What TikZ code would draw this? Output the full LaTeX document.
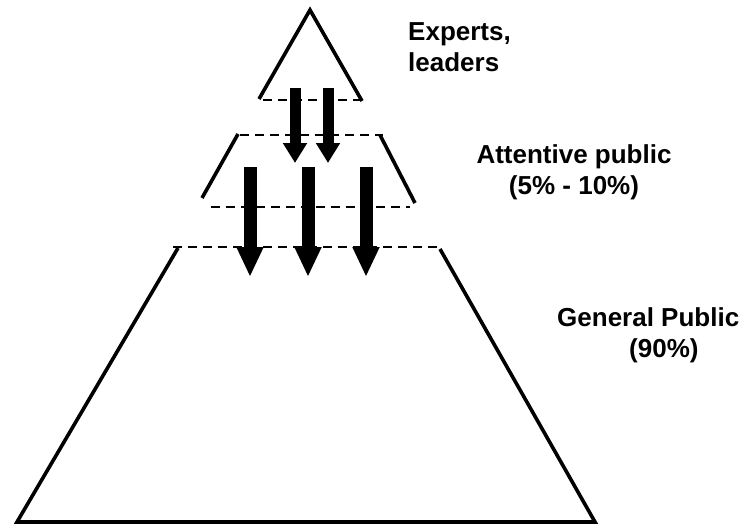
\documentclass[tikz,border=0pt]{standalone}
\usepackage{fontspec}
\setmainfont{Liberation Sans}
\usetikzlibrary{arrows.meta}
\tikzset{
  edge/.style={line width=3.6pt, line join=miter},
  cut/.style={line width=1.8pt, dash pattern=on 9pt off 6pt},
  flowsmall/.style={line width=11pt, -{Triangle[width=23pt,length=20pt]}},
  flowbig/.style={line width=13pt, -{Triangle[width=25pt,length=30pt]}},
  lbl/.style={font=\bfseries\fontsize{26}{31}\selectfont, inner sep=0pt}
}
\begin{document}
\begin{tikzpicture}[x=1pt,y=-1pt]
\useasboundingbox (0,0) rectangle (746,527);
% top triangle
\coordinate (tl) at (259,99);
\coordinate (apex) at (310,10);
\coordinate (tr) at (362,101);
\draw[edge] (tl) -- (apex) -- (tr);
\coordinate (d1a) at (263,100);
\coordinate (d1b) at (360,100);
\draw[cut] (d1a) -- (d1b);
% middle trapezoid
\coordinate (ml1) at (238,134);
\coordinate (ml2) at (202,198);
\coordinate (mr1) at (380,135);
\coordinate (mr2) at (415,203);
\draw[edge] (ml1) -- (ml2);
\draw[edge] (mr1) -- (mr2);
\coordinate (d2a) at (240,135);
\coordinate (d2b) at (383,135);
\draw[cut] (d2a) -- (d2b);
\coordinate (d3a) at (211,207);
\coordinate (d3b) at (410,207);
\draw[cut] (d3a) -- (d3b);
% bottom trapezoid
\coordinate (d4a) at (173,247);
\coordinate (d4b) at (441,247);
\draw[cut] (d4a) -- (d4b);
\coordinate (bl1) at (178,248);
\coordinate (bl2) at (17,522);
\coordinate (br2) at (595,522);
\coordinate (br1) at (440,249);
\draw[edge] (bl1) -- (bl2) -- (br2) -- (br1);
% arrows
\coordinate (a1s) at (295,88);  \coordinate (a1e) at (295,163);
\coordinate (a2s) at (328,88);  \coordinate (a2e) at (328,163);
\draw[flowsmall] (a1s) -- (a1e);
\draw[flowsmall] (a2s) -- (a2e);
\coordinate (b1s) at (250,167); \coordinate (b1e) at (250,277);
\coordinate (b2s) at (308,167); \coordinate (b2e) at (308,277);
\coordinate (b3s) at (366,167); \coordinate (b3e) at (366,277);
\draw[flowbig] (b1s) -- (b1e);
\draw[flowbig] (b2s) -- (b2e);
\draw[flowbig] (b3s) -- (b3e);
% labels
\node[lbl, anchor=north west, align=left] (experts) at (408,22) {Experts,\\leaders};
\node[lbl, anchor=north, align=center] (attentive) at (574,144) {Attentive public\\(5\% - 10\%)};
\node[lbl, anchor=north west, align=left] (general) at (557,307) {General Public\\\hspace{72pt}(90\%)};
\end{tikzpicture}
\end{document}
